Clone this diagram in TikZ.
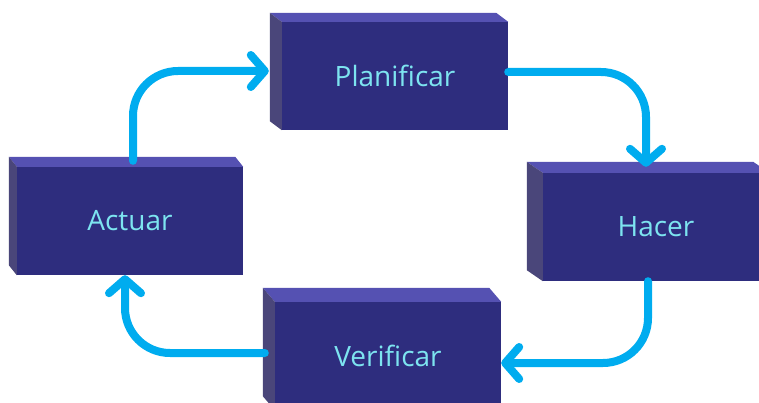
\documentclass[tikz,border=0pt]{standalone}
\usepackage{fontspec}
\setmainfont{Open Sans}
\usetikzlibrary{arrows.meta}

\definecolor{boxfront}{RGB}{46,45,126}
\definecolor{boxtop}{RGB}{85,81,178}
\definecolor{boxside}{RGB}{74,70,122}
\definecolor{boxtext}{RGB}{125,228,240}
\definecolor{flowblue}{RGB}{0,172,239}

% top and left faces of a block: #1 node, (#2,#3) depth offset
\newcommand{\boxfaces}[3]{%
  \fill[boxtop] (#1.north west) -- ++(#2,#3) -- ([shift={(#2,#3)}]#1.north east) -- (#1.north east) -- cycle;
  \fill[boxside] (#1.north west) -- ++(#2,#3) -- ([shift={(#2,#3)}]#1.south west) -- (#1.south west) -- cycle;
}

\begin{document}
\begin{tikzpicture}[x=1pt,y=-1pt,
    block/.style={rectangle, fill=boxfront, text=boxtext, inner sep=0pt,
      minimum width=226pt, minimum height=108pt, font=\fontsize{28}{32}\selectfont},
    flow/.style={draw=flowblue, line width=8pt, line cap=round, rounded corners=45pt,
      -{Straight Barb[length=14pt,width=32pt,round]}}]
  \useasboundingbox (0,0) rectangle (759,403);
  \clip (0,0) rectangle (759,403);

  \node[block] (planificar) at (395,76) {Planificar};
  \node[block] (actuar) at (130,221) {Actuar};
  \node[block] (hacer) at (656,227) {Hacer};
  \node[block] (verificar) at (388,356) {Verificar};

  \boxfaces{planificar}{-12}{-9}
  \boxfaces{actuar}{-8}{-10}
  \boxfaces{hacer}{-16}{-11}
  \boxfaces{verificar}{-12}{-14}

  % the cycle
  \draw[flow] ([xshift=3pt,yshift=6pt]actuar.north) |- ([xshift=-13pt,yshift=5pt]planificar.west);
  \draw[flow] ([yshift=4pt]planificar.east) -| ([xshift=-10pt,yshift=6pt]hacer.north);
  \draw[flow] ([xshift=-8pt]hacer.south) |- ([yshift=-7pt]verificar.east);
  \draw[flow] ([xshift=-10pt,yshift=3pt]verificar.west) -| ([xshift=-5pt]actuar.south);
\end{tikzpicture}
\end{document}
